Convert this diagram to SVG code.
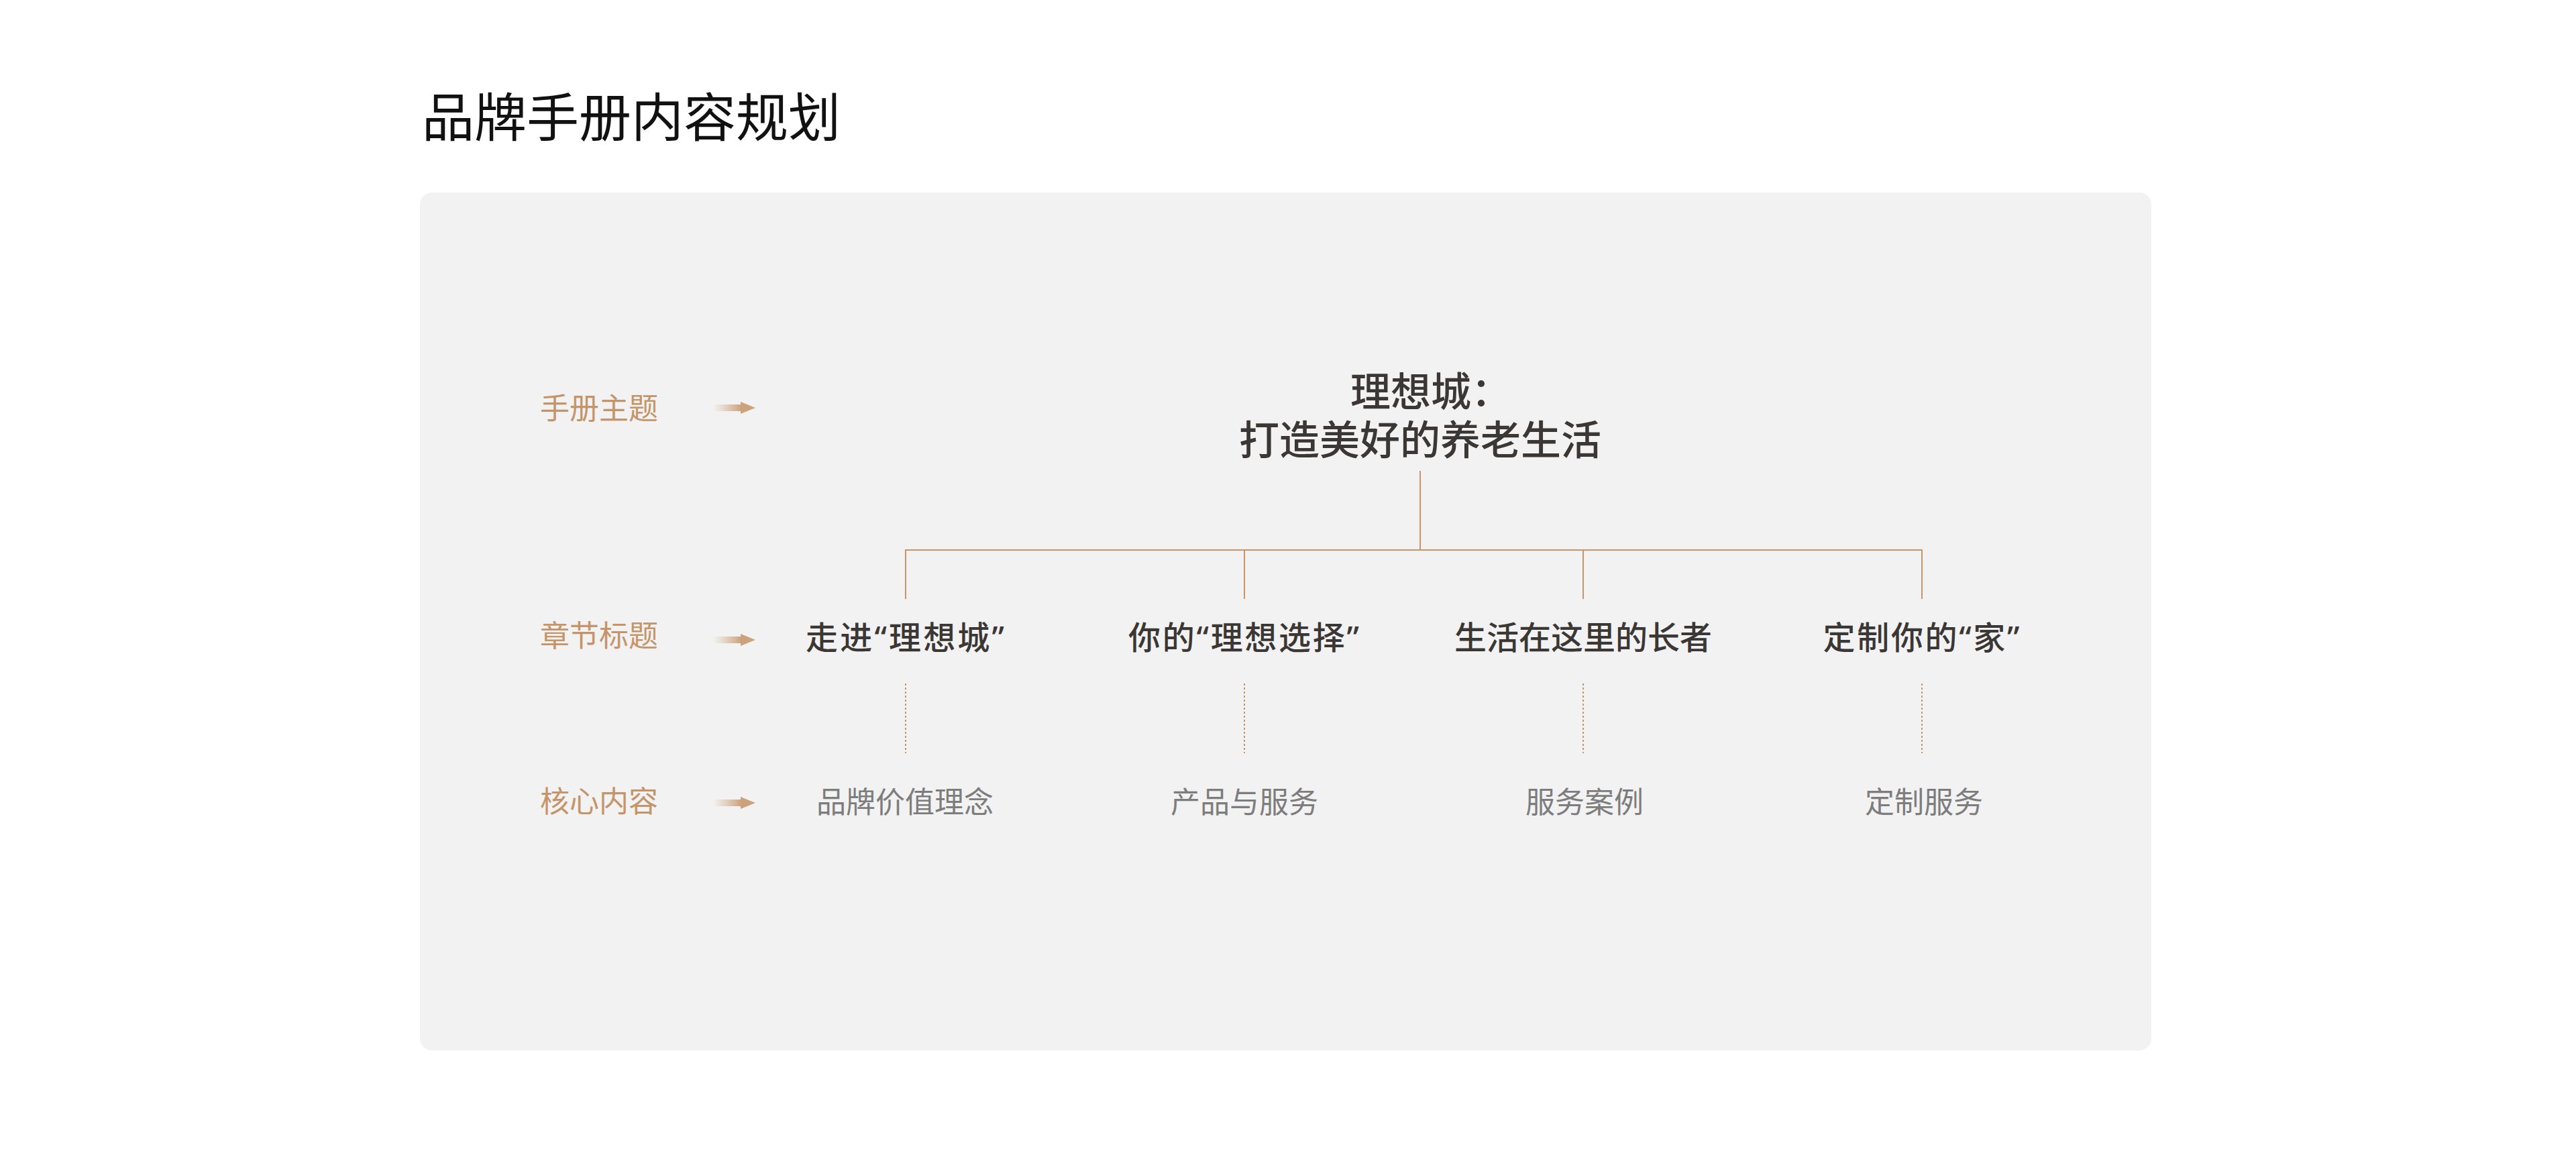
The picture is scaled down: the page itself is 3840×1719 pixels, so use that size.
<svg xmlns="http://www.w3.org/2000/svg" width="3840" height="1719" viewBox="0 0 3840 1719">
  <style>
    .cjk { font-family: "Noto Sans CJK SC", "Noto Sans", sans-serif; }
    .title { font-size: 78px; fill: #111111; font-weight: 400; }
    .cat { font-size: 44px; fill: #C4956A; font-weight: 400; }
    .theme { font-size: 60px; fill: #3B3735; font-weight: 500; }
    .chap { font-size: 48px; fill: #3B3735; font-weight: 500; text-anchor: middle; }
    .core { font-size: 44px; fill: #7D7D7D; font-weight: 400; text-anchor: middle; }
    .q { font-family: "Noto Sans", "DejaVu Sans", sans-serif; }
    .line { stroke: #C8956A; stroke-width: 2; fill: none; }
    .dot { stroke: #C8956A; stroke-width: 2; fill: none; stroke-dasharray: 3 3; }
  </style>
  <defs>
    <linearGradient id="shaftGrad" x1="0" y1="0" x2="1" y2="0">
      <stop offset="0" stop-color="#D4B08C" stop-opacity="0"/>
      <stop offset="1" stop-color="#CBA27B" stop-opacity="1"/>
    </linearGradient>
    <g id="arrow">
      <rect x="0" y="-5" width="42" height="10" fill="url(#shaftGrad)"/>
      <polygon points="41,-9 63,0 41,9" fill="#CBA27B"/>
    </g>
  </defs>

  <rect x="0" y="0" width="3840" height="1719" fill="#FFFFFF"/>

  <g id="heading">
    <text class="cjk title" x="629" y="204">品牌手册内容规划</text>
  </g>

  <g id="card">
    <rect x="626" y="287" width="2581" height="1279" rx="18" ry="18" fill="#F2F2F2"/>
  </g>

  <g id="row-labels">
    <g id="label-theme">
      <text class="cjk cat" x="805" y="625">手册主题</text>
      <use href="#arrow" x="1063" y="608"/>
    </g>
    <g id="label-chapter">
      <text class="cjk cat" x="805" y="964">章节标题</text>
      <use href="#arrow" x="1063" y="954"/>
    </g>
    <g id="label-core">
      <text class="cjk cat" x="805" y="1211">核心内容</text>
      <use href="#arrow" x="1063" y="1197"/>
    </g>
  </g>

  <g id="connectors">
    <line class="line" x1="2117" y1="702" x2="2117" y2="820"/>
    <line class="line" x1="1349" y1="820" x2="2866" y2="820"/>
    <line class="line" x1="1350" y1="820" x2="1350" y2="893"/>
    <line class="line" x1="1855" y1="820" x2="1855" y2="893"/>
    <line class="line" x1="2360" y1="820" x2="2360" y2="893"/>
    <line class="line" x1="2865" y1="820" x2="2865" y2="893"/>
    <line class="dot" x1="1350" y1="1019" x2="1350" y2="1123"/>
    <line class="dot" x1="1855" y1="1019" x2="1855" y2="1123"/>
    <line class="dot" x1="2360" y1="1019" x2="2360" y2="1123"/>
    <line class="dot" x1="2865" y1="1019" x2="2865" y2="1123"/>
  </g>

  <g id="theme">
    <text class="cjk theme" x="2013" y="606">理想城：</text>
    <text class="cjk theme" x="2117" y="678" text-anchor="middle">打造美好的养老生活</text>
  </g>

  <g id="chapter-1">
    <text class="cjk chap" x="1349" y="968" textLength="296" lengthAdjust="spacing">走进<tspan class="q">“</tspan>理想城<tspan class="q">”</tspan></text>
  </g>
  <g id="chapter-2">
    <text class="cjk chap" x="1854" y="968" textLength="344" lengthAdjust="spacing">你的<tspan class="q">“</tspan>理想选择<tspan class="q">”</tspan></text>
  </g>
  <g id="chapter-3">
    <text class="cjk chap" x="2360" y="968">生活在这里的长者</text>
  </g>
  <g id="chapter-4">
    <text class="cjk chap" x="2864" y="968" textLength="293" lengthAdjust="spacing">定制你的<tspan class="q">“</tspan>家<tspan class="q">”</tspan></text>
  </g>

  <g id="core-1">
    <text class="cjk core" x="1349" y="1212">品牌价值理念</text>
  </g>
  <g id="core-2">
    <text class="cjk core" x="1855" y="1212">产品与服务</text>
  </g>
  <g id="core-3">
    <text class="cjk core" x="2362" y="1212">服务案例</text>
  </g>
  <g id="core-4">
    <text class="cjk core" x="2868" y="1212">定制服务</text>
  </g>
</svg>
